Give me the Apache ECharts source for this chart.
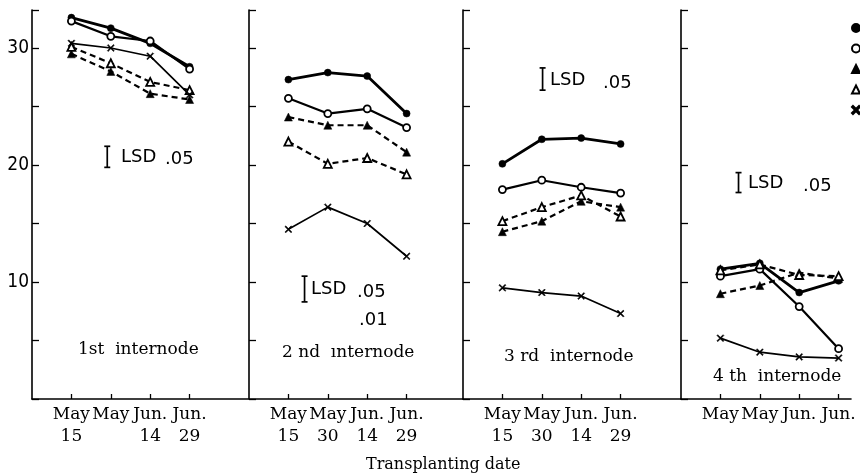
<!DOCTYPE html>
<html>
<head>
<meta charset="utf-8">
<script src="https://cdn.jsdelivr.net/npm/echarts@6/dist/echarts.min.js"></script>
<style>
  html, body { margin: 0; padding: 0; background: #fff; }
  #chart { width: 860px; height: 476px; }
</style>
</head>
<body>
<div id="chart"></div>
<script>
// Internode length by transplanting date, four internodes, five treatments.
const dateMonth = ['May', 'May', 'Jun.', 'Jun.'];
const daysFirst = ['15', '', '14', '29'];
const daysSecond = ['15', '30', '14', '29'];
const daysThird = ['15', '30', '14', '29'];
const daysFourth = ['', '', '', ''];
const yTickLabels = [10, 20, 30];
const panelTitles = ['1st  internode', '2 nd  ınternode', '3 rd  internode', '4 th  internode'];

// 1st internode
const firstDot = [32.6, 31.7, 30.4, 28.4];
const firstRing = [32.3, 31.0, 30.6, 28.2];
const firstTri = [29.5, 28.0, 26.1, 25.6];
const firstOpenTri = [30.1, 28.7, 27.1, 26.4];
const firstCross = [30.4, 30.0, 29.3, 26.0];
// 2nd internode
const secondDot = [27.3, 27.9, 27.6, 24.4];
const secondRing = [25.7, 24.4, 24.8, 23.2];
const secondTri = [24.1, 23.4, 23.4, 21.1];
const secondOpenTri = [22.0, 20.1, 20.6, 19.2];
const secondCross = [14.5, 16.4, 15.0, 12.2];
// 3rd internode
const thirdDot = [20.1, 22.2, 22.3, 21.8];
const thirdRing = [17.9, 18.7, 18.1, 17.6];
const thirdTri = [14.3, 15.2, 16.9, 16.4];
const thirdOpenTri = [15.2, 16.4, 17.4, 15.6];
const thirdCross = [9.5, 9.1, 8.8, 7.3];
// 4th internode
const fourthDot = [11.1, 11.6, 9.1, 10.1];
const fourthRing = [10.5, 11.1, 7.9, 4.3];
const fourthTri = [9.0, 9.7, 10.8, 10.3];
const fourthOpenTri = [11.0, 11.5, 10.6, 10.5];
const fourthCross = [5.2, 4.0, 3.6, 3.5];

// Least significant difference (P = .05) for each internode
const lsdValues = [1.8, 2.2, 1.9, 1.7];

const panelData = [
  [firstDot, firstRing, firstTri, firstOpenTri, firstCross],
  [secondDot, secondRing, secondTri, secondOpenTri, secondCross],
  [thirdDot, thirdRing, thirdTri, thirdOpenTri, thirdCross],
  [fourthDot, fourthRing, fourthTri, fourthOpenTri, fourthCross]
];
const panelDays = [daysFirst, daysSecond, daysThird, daysFourth];

// Layout of the four panels (pixels) and x extent in category units
const UNIT = 39.4;
const panelLeft = [32, 249, 463, 681];
const panelWidth = [216, 214, 218, 170];
const GRID_TOP = 10, GRID_BOTTOM_Y = 399;
const Y_MAX = 33.25;
// Where each LSD bar sits: [x in category units, y centre]
const lsdPlace = [[1.91, 20.7], [1.41, 9.4], [2.02, 27.35], [1.46, 18.5]];

const CROSS = 'path://M0,1.2L1.2,0L5,3.8L8.8,0L10,1.2L6.2,5L10,8.8L8.8,10L5,6.2L1.2,10L0,8.8L3.8,5Z';
const treatments = [
  { name: 'dot', symbol: 'circle', size: 7, fill: '#000', type: 'solid', width: 2.8 },
  { name: 'ring', symbol: 'circle', size: 7, fill: '#fff', type: 'solid', width: 2.2 },
  { name: 'tri', symbol: 'triangle', size: 8, fill: '#000', type: [6, 4], width: 2.2 },
  { name: 'opentri', symbol: 'triangle', size: 8, fill: '#fff', type: [6, 4], width: 2.2 },
  { name: 'cross', symbol: CROSS, size: 7, fill: '#000', type: 'solid', width: 1.7 }
];

const grids = [], xAxes = [], yAxes = [], series = [];
const serif = '"DejaVu Serif", "Liberation Serif", serif';

for (let p = 0; p < 4; p++) {
  grids.push({ left: panelLeft[p], top: GRID_TOP, width: panelWidth[p], height: GRID_BOTTOM_Y - GRID_TOP });
  const days = panelDays[p];
  xAxes.push({
    type: 'value', gridIndex: p, min: 0, max: panelWidth[p] / UNIT,
    axisLine: { show: true, onZero: false, lineStyle: { color: '#000', width: 1.6 } },
    axisTick: { show: true, inside: true, length: 5, customValues: [1, 2, 3, 4], lineStyle: { color: '#000', width: 1.3 } },
    axisLabel: {
      customValues: [1, 2, 3, 4], margin: 5,
      color: '#000', fontFamily: serif, fontSize: 17, lineHeight: 22, verticalAlign: 'top',
      formatter: v => {
        const i = Math.round(v) - 1;
        return days[i] ? dateMonth[i] + '\n' + days[i] : dateMonth[i];
      }
    },
    splitLine: { show: false }
  });
  yAxes.push({
    type: 'value', gridIndex: p, min: 0, max: Y_MAX, interval: 5,
    axisLine: { show: true, onZero: false, lineStyle: { color: '#000', width: 1.6 } },
    axisTick: { show: true, inside: true, length: 7, lineStyle: { color: '#000', width: 1.3 } },
    axisLabel: {
      show: p === 0, inside: false, margin: 3, color: '#000',
      fontFamily: '"DejaVu Sans Condensed", "Liberation Sans Narrow", "DejaVu Sans", sans-serif',
      fontSize: 19,
      formatter: v => yTickLabels.includes(v) ? String(v) : ''
    },
    splitLine: { show: false }
  });
  treatments.forEach((t, k) => {
    series.push({
      type: 'line', name: t.name, xAxisIndex: p, yAxisIndex: p,
      data: panelData[p][k].map((v, i) => [i + 1, v]),
      symbol: t.symbol, symbolSize: t.size, showAllSymbol: true,
      lineStyle: { color: '#000', width: t.width, type: t.type },
      itemStyle: { color: t.fill, borderColor: '#000', borderWidth: t.fill === '#fff' ? 1.8 : 0.5 },
      emphasis: { disabled: true }, animation: false, z: 3
    });
  });
  // LSD I-beam
  series.push({
    type: 'custom', xAxisIndex: p, yAxisIndex: p, animation: false, silent: true,
    data: [[lsdPlace[p][0], lsdPlace[p][1], lsdValues[p]]],
    renderItem: (params, api) => {
      const x = api.value(0), yc = api.value(1), len = api.value(2);
      const top = api.coord([x, yc + len / 2]);
      const bot = api.coord([x, yc - len / 2]);
      const st = { stroke: '#000', lineWidth: 1.7 };
      return {
        type: 'group', children: [
          { type: 'line', shape: { x1: top[0], y1: top[1], x2: bot[0], y2: bot[1] }, style: st },
          { type: 'line', shape: { x1: top[0] - 3, y1: top[1], x2: top[0] + 3, y2: top[1] }, style: st },
          { type: 'line', shape: { x1: bot[0] - 3, y1: bot[1], x2: bot[0] + 3, y2: bot[1] }, style: st }
        ]
      };
    }
  });
}

const lsdFont = '"DejaVu Sans", sans-serif';
function txt(x, y, text, size, family) {
  return {
    type: 'text', x, y, silent: true,
    style: { text, fill: '#000', font: size + 'px ' + family, textAlign: 'left', textVerticalAlign: 'middle' }
  };
}

const graphics = [
  txt(121, 157, 'LSD', 18, lsdFont), txt(165, 159, '.05', 18, lsdFont),
  txt(311, 289, 'LSD', 18, lsdFont), txt(357, 292, '.05', 18, lsdFont), txt(359, 320, '.01', 18, lsdFont),
  txt(550, 80, 'LSD', 18, lsdFont), txt(603, 83, '.05', 18, lsdFont),
  txt(748, 183, 'LSD', 18, lsdFont), txt(803, 186, '.05', 18, lsdFont),
  txt(78, 350, panelTitles[0], 17, serif),
  txt(282, 353, panelTitles[1], 17, serif),
  txt(504, 357, panelTitles[2], 17, serif),
  txt(713, 377, panelTitles[3], 17, serif),
  txt(366, 465, 'Transplanting date', 16, serif)
];

const chart = echarts.init(document.getElementById('chart'), null, { renderer: 'canvas' });
chart.setOption({
  backgroundColor: '#fff',
  animation: false,
  grid: grids, xAxis: xAxes, yAxis: yAxes, series,
  legend: {
    orient: 'vertical', left: 851, top: 23, padding: 0, itemWidth: 8, itemHeight: 8, itemGap: 10.5,
    textStyle: { fontSize: 6, lineHeight: 6, padding: 0 },
    formatter: () => '', selectedMode: false,
    data: [
      { name: 'dot', icon: 'circle', itemStyle: { color: '#000' } },
      { name: 'ring', icon: 'circle', itemStyle: { color: '#fff', borderColor: '#000', borderWidth: 2 } },
      { name: 'tri', icon: 'triangle', itemStyle: { color: '#000' } },
      { name: 'opentri', icon: 'triangle', itemStyle: { color: '#fff', borderColor: '#000', borderWidth: 2 } },
      { name: 'cross', icon: CROSS, itemStyle: { color: '#000' } }
    ]
  },
  graphic: graphics
});
</script>
</body>
</html>
